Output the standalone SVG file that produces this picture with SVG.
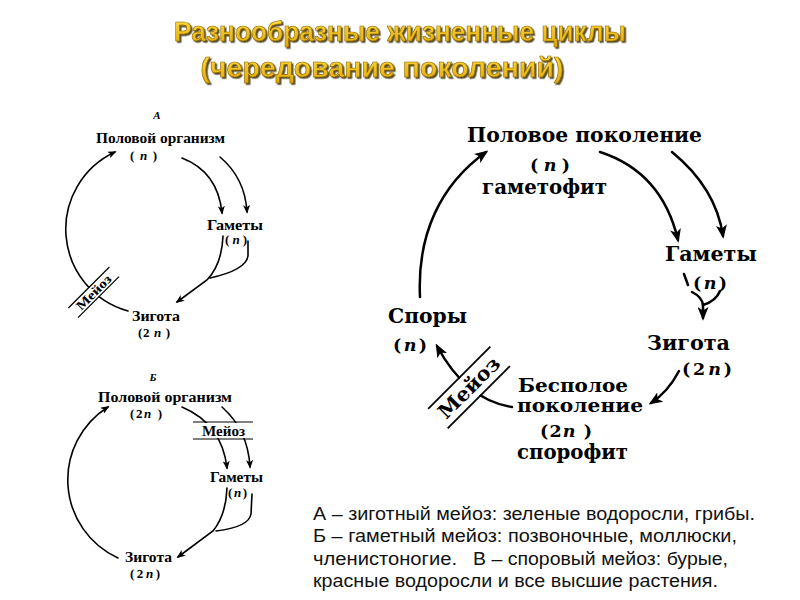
<svg xmlns="http://www.w3.org/2000/svg" width="800" height="600" viewBox="0 0 800 600">
<defs>
<marker id="ah" viewBox="0 0 10 8" markerWidth="5.5" markerHeight="4.4" refX="8" refY="4" orient="auto">
<path d="M0,0 L10,4 L0,8 L2.5,4 Z" fill="#000"/>
</marker>
<linearGradient id="gold" x1="0" y1="0" x2="0" y2="1">
<stop offset="0" stop-color="#ffe04a"/>
<stop offset="1" stop-color="#e0a800"/>
</linearGradient>
<filter id="sh" x="-5%" y="-30%" width="110%" height="160%">
<feDropShadow dx="1.6" dy="1.6" stdDeviation="0.7" flood-color="#3a2c00" flood-opacity="0.85"/>
</filter>
</defs>
<style>
.t{font-family:"Liberation Sans",Arial,sans-serif;font-weight:bold;font-size:28px;text-anchor:middle;fill:url(#gold);stroke:#8a6400;stroke-width:0.6;filter:url(#sh)}
.s{font-family:"DejaVu Serif","Liberation Serif",serif;font-weight:bold;fill:#000}
.r{font-family:"Liberation Serif","Times New Roman",serif;font-weight:bold;fill:#000}
.sm{font-size:15.5px}
.sp{font-size:13px}
.lg{font-size:20px}
.lp{font-size:17.5px}
.i{font-style:italic}
.c{fill:none;stroke:#000;stroke-linecap:round}
.c1{stroke-width:1.6}
.c2{stroke-width:2.5}
.note{font-family:"Liberation Sans",Arial,sans-serif;font-size:17.5px;fill:#111}
</style>
<rect width="800" height="600" fill="#fff"/>

<g id="title">
<text class="t" x="400" y="41" textLength="452" lengthAdjust="spacingAndGlyphs">Разнообразные жизненные циклы</text>
<text class="t" x="382" y="77" textLength="363" lengthAdjust="spacingAndGlyphs">(чередование поколений)</text>
</g>

<g id="connectors">
<!-- A -->
<path class="c c1" d="M128,311 A85,85 0 0 1 115,152" marker-end="url(#ah)"/>
<path class="c c1" d="M182,158 Q218,172 222,213" marker-end="url(#ah)"/>
<path class="c c1" d="M220,157 Q245,178 247,212" marker-end="url(#ah)"/>
<path class="c c1" d="M223,236 Q222,264 207,280 L177,302" marker-end="url(#ah)"/>
<path class="c c1" d="M248,241 L248,256 Q246,270 210,278"/>
<!-- Б -->
<path class="c c1" d="M118,558 A86,86 0 0 1 108,407" marker-end="url(#ah)"/>
<path class="c c1" d="M182,407 Q222,424 227,468" marker-end="url(#ah)"/>
<path class="c c1" d="M222,407 Q248,430 250,467" marker-end="url(#ah)"/>
<path class="c c1" d="M227,488 Q226,515 213,531 L178,557" marker-end="url(#ah)"/>
<path class="c c1" d="M252,494 L251,514 Q249,527 216,531"/>
<!-- В -->
<path class="c c2" d="M420,297 C417,235 440,185 486,152" marker-end="url(#ah)"/>
<path class="c c2" d="M600,152 Q662,172 678,240" marker-end="url(#ah)"/>
<path class="c c2" d="M672,152 Q716,188 723,236" marker-end="url(#ah)"/>
<path class="c c2" d="M684,274 L688,285"/>
<path class="c c2" d="M692,292 Q702,297 703,305"/>
<path class="c c2" d="M720,291 Q716,301 703,305"/>
<path class="c c2" d="M703,304 L703,318" marker-end="url(#ah)"/>
<path class="c c2" d="M679,371 Q668,392 651,403" marker-end="url(#ah)"/>
<path class="c c2" d="M512,407 Q466,400 437,346" marker-end="url(#ah)"/>
</g>

<g id="diagramA">
<text class="r i" x="157" y="119" font-size="11" text-anchor="middle">А</text>
<g id="a-polovoy"><text class="r sm" x="96" y="143" textLength="129" lengthAdjust="spacingAndGlyphs">Половой организм</text>
<text class="r sp" x="130" y="160" textLength="27" lengthAdjust="spacing">( <tspan class="i">n</tspan> )</text></g>
<g id="a-gamety"><text class="r sm" x="207" y="230" textLength="56" lengthAdjust="spacingAndGlyphs">Гаметы</text>
<text class="r sp" x="225" y="244" textLength="22" lengthAdjust="spacing">(<tspan class="i">n</tspan>)</text></g>
<g id="a-zigota"><text class="r sm" x="132" y="321" textLength="48" lengthAdjust="spacingAndGlyphs">Зигота</text>
<text class="r sp" x="138" y="337" textLength="32" lengthAdjust="spacing">(2 <tspan class="i">n</tspan> )</text></g>
<g id="a-meioz" transform="translate(93.7,292.3) rotate(-45)">
<rect x="-29" y="-6.5" width="58" height="13" fill="#fff"/>
<line x1="-29" y1="-6.8" x2="29" y2="-6.8" stroke="#000" stroke-width="1.2"/>
<line x1="-29" y1="6.8" x2="29" y2="6.8" stroke="#000" stroke-width="1.2"/>
<text class="r" font-size="13" x="0" y="4.5" text-anchor="middle" textLength="44" lengthAdjust="spacingAndGlyphs">Мейоз</text>
</g>
</g>

<g id="diagramB">
<text class="r i" x="153" y="381" font-size="11" text-anchor="middle">Б</text>
<g id="b-polovoy"><text class="r sm" x="98" y="402" textLength="134" lengthAdjust="spacingAndGlyphs">Половой организм</text>
<text class="r sp" x="130" y="418" textLength="32" lengthAdjust="spacing">(2<tspan class="i">n</tspan> )</text></g>
<g id="b-meioz">
<rect x="193" y="423" width="60" height="15" fill="#fff"/>
<line x1="193" y1="422" x2="253" y2="422" stroke="#000" stroke-width="1.2"/>
<line x1="193" y1="439" x2="253" y2="439" stroke="#000" stroke-width="1.2"/>
<text class="r" font-size="14" x="202" y="435.5" textLength="43" lengthAdjust="spacingAndGlyphs">Мейоз</text>
</g>
<g id="b-gamety"><text class="r sm" x="210" y="482" textLength="53" lengthAdjust="spacingAndGlyphs">Гаметы</text>
<text class="r sp" x="228" y="497" textLength="19" lengthAdjust="spacing">(<tspan class="i">n</tspan>)</text></g>
<g id="b-zigota"><text class="r sm" x="125" y="562" textLength="47" lengthAdjust="spacingAndGlyphs">Зигота</text>
<text class="r sp" x="130" y="578" textLength="30" lengthAdjust="spacing">(2<tspan class="i">n</tspan>)</text></g>
</g>

<g id="diagramV">
<g id="v-polovoe"><text class="s lg" x="467" y="142" textLength="235" lengthAdjust="spacingAndGlyphs">Половое поколение</text>
<text class="s lp" x="530" y="171" textLength="40" lengthAdjust="spacing">( <tspan class="i">n</tspan> )</text>
<text class="s lg" x="482" y="194" textLength="125" lengthAdjust="spacingAndGlyphs">гаметофит</text></g>
<g id="v-gamety"><text class="s lg" x="665" y="261" textLength="92" lengthAdjust="spacingAndGlyphs">Гаметы</text>
<text class="s lp" x="693" y="289" textLength="34" lengthAdjust="spacing">(<tspan class="i">n</tspan>)</text></g>
<g id="v-zigota"><text class="s lg" x="647" y="350" textLength="83" lengthAdjust="spacingAndGlyphs">Зигота</text>
<text class="s lp" x="682" y="375" textLength="50" lengthAdjust="spacing">(2<tspan class="i">n</tspan>)</text></g>
<g id="v-besp"><text class="s" font-size="19" x="518" y="392" textLength="110" lengthAdjust="spacingAndGlyphs">Бесполое</text>
<text class="s" font-size="19" x="517" y="412" textLength="126" lengthAdjust="spacingAndGlyphs">поколение</text>
<text class="s lp" x="540" y="437" textLength="52" lengthAdjust="spacing">(2<tspan class="i">n</tspan> )</text>
<text class="s lg" x="517" y="459" textLength="111" lengthAdjust="spacingAndGlyphs">спорофит</text></g>
<g id="v-spory"><text class="s lg" x="388" y="323" textLength="79" lengthAdjust="spacingAndGlyphs">Споры</text>
<text class="s lp" x="393" y="351" textLength="34" lengthAdjust="spacing">(<tspan class="i">n</tspan>)</text></g>
<g id="v-meioz" transform="translate(469,387.5) rotate(-45)">
<rect x="-44" y="-13" width="88" height="26" fill="#fff"/>
<line x1="-44" y1="-13.8" x2="44" y2="-13.8" stroke="#000" stroke-width="1.8"/>
<line x1="-44" y1="13.8" x2="44" y2="13.8" stroke="#000" stroke-width="1.8"/>
<text class="s lg" x="0" y="7" text-anchor="middle" textLength="78" lengthAdjust="spacingAndGlyphs">Мейоз</text>
</g>
</g>

<g id="notes">
<text class="note" x="313" y="520" textLength="442" lengthAdjust="spacingAndGlyphs">А – зиготный мейоз: зеленые водоросли, грибы.</text>
<text class="note" x="313" y="542" textLength="424" lengthAdjust="spacingAndGlyphs">Б – гаметный мейоз: позвоночные, моллюски,</text>
<text class="note" x="313" y="565" textLength="144" lengthAdjust="spacingAndGlyphs">членистоногие.</text>
<text class="note" x="473" y="565" textLength="255" lengthAdjust="spacingAndGlyphs">В – споровый мейоз: бурые,</text>
<text class="note" x="313" y="587" textLength="405" lengthAdjust="spacingAndGlyphs">красные водоросли и все высшие растения.</text>
</g>
</svg>
